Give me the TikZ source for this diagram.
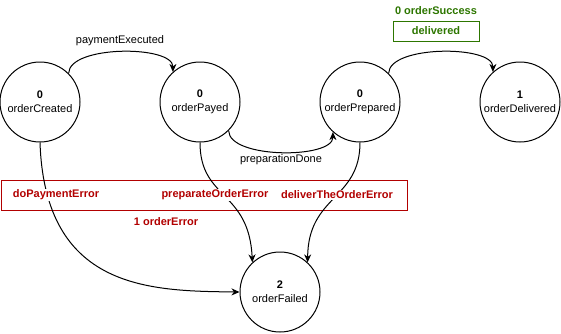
\documentclass[tikz,border=0pt]{standalone}
\usepackage{fontspec}
\setmainfont{Liberation Sans}
\usetikzlibrary{arrows.meta,calc}
\definecolor{errred}{HTML}{B20000}
\definecolor{okgreen}{HTML}{2D7600}
\begin{document}
\begin{tikzpicture}[x=1pt,y=-1pt,
  state/.style={draw,circle,minimum size=80pt,inner sep=0pt,align=center,line width=1pt,font=\fontsize{11}{14}\selectfont},
  conn/.style={line width=1pt,-{Stealth[length=8pt,width=7pt,inset=2.5pt]}},
  lbl/.style={font=\fontsize{11}{13}\selectfont,inner sep=1pt},
  errlbl/.style={font=\fontsize{11}{13}\selectfont\bfseries,text=errred,inner sep=1pt,fill=white},
  oklbl/.style={font=\fontsize{11}{13}\selectfont\bfseries,text=okgreen,inner sep=1pt}]
\useasboundingbox (0,0) rectangle (561,333);
% error group box
\node[draw=errred,line width=1pt,minimum width=406pt,minimum height=30pt,inner sep=0pt] (errbox) at (204,195) {};
% success group
\node[oklbl] (sg) at (436,11) {0 orderSuccess};
\node[draw=okgreen,line width=1pt,minimum width=86pt,minimum height=20pt,inner sep=0pt,oklbl] (sbox) at (436,31) {delivered};
% states
\node[state] (c) at (40,102) {\textbf{0}\\orderCreated};
\node[state] (p) at (200,102) {\textbf{0}\\orderPayed};
\node[state] (r) at (360,102) {\textbf{0}\\orderPrepared};
\node[state] (d) at (520,102) {\textbf{1}\\orderDelivered};
\node[state] (f) at (280,292) {\textbf{2}\\orderFailed};
% transitions
\draw[conn] (c.45) .. controls (69,45) and (173,45) .. (p.132);
\node[lbl] (l1) at (120,41) {paymentExecuted};
\draw[conn] (p.-45) .. controls (229,159) and (333,159) .. (r.-132);
\node[lbl] (l2) at (281,160) {preparationDone};
\draw[conn] (r.45) .. controls (389,45) and (493,45) .. (d.132);
\draw[conn] (c.south) .. controls (45,290) and (150,291) .. (f.west);
\draw[conn] (p.south) .. controls (200,200) and (249,190) .. (f.133);
\draw[conn] (r.south) .. controls (360,200) and (308,195) .. (f.47);
% error labels on top of the connectors
\node[errlbl] (e1) at (56,195) {doPaymentError};
\node[errlbl] (e2) at (215,195) {preparateOrderError};
\node[errlbl] (e3) at (337,195) {deliverTheOrderError};
\node[errlbl] (eg) at (166,222) {1 orderError};
\end{tikzpicture}
\end{document}
